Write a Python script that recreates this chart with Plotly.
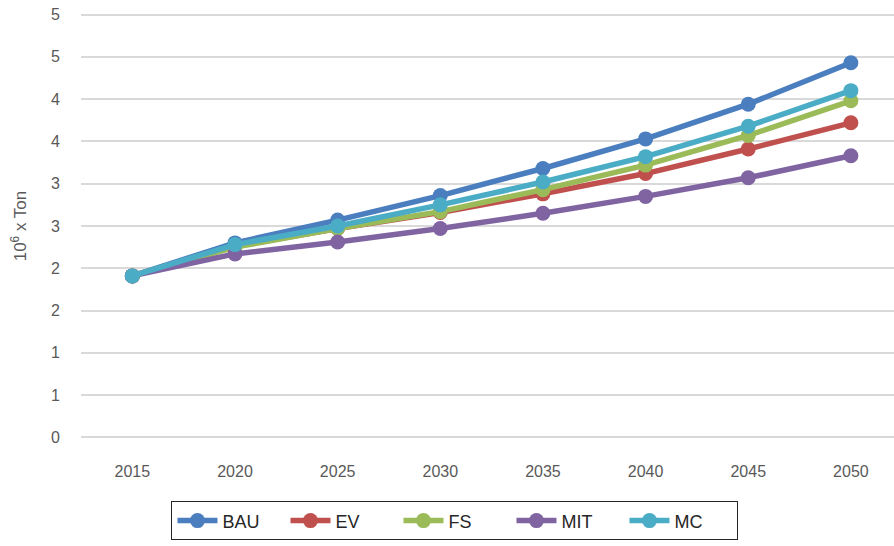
import plotly.graph_objects as go

years = ["2015", "2020", "2025", "2030", "2035", "2040", "2045", "2050"]
bau = [1.91, 2.30, 2.57, 2.86, 3.18, 3.53, 3.94, 4.43]
ev = [1.91, 2.26, 2.47, 2.66, 2.88, 3.12, 3.41, 3.72]
fs = [1.91, 2.25, 2.47, 2.67, 2.93, 3.22, 3.57, 3.98]
mit = [1.91, 2.17, 2.31, 2.47, 2.65, 2.85, 3.07, 3.33]
mc = [1.91, 2.28, 2.50, 2.75, 3.02, 3.32, 3.68, 4.10]

ytick_vals = [0, 0.5, 1, 1.5, 2, 2.5, 3, 3.5, 4, 4.5, 5]
ytick_text = ["0", "1", "1", "2", "2", "3", "3", "4", "4", "5", "5"]

series = [
    ("BAU", bau, "#4A7EBF"),
    ("EV", ev, "#C0504D"),
    ("FS", fs, "#9BBB59"),
    ("MIT", mit, "#8064A2"),
    ("MC", mc, "#4BACC6"),
]

font_family = "Liberation Sans, Arial, sans-serif"
text_color = "#595959"

fig = go.Figure()
for name, vals, color in series:
    fig.add_trace(go.Scatter(
        x=years, y=vals, name=name, mode="lines+markers",
        line=dict(color=color, width=5.5),
        marker=dict(color=color, size=15),
    ))

fig.update_layout(
    width=894, height=546,
    margin=dict(l=81, r=0, t=11.5, b=105.5),
    paper_bgcolor="white", plot_bgcolor="white",
    font=dict(family=font_family, color=text_color, size=16),
    showlegend=True,
    legend=dict(
        orientation="h", x=0.46, xanchor="center", y=-0.1434, yanchor="top",
        bordercolor="#262626", borderwidth=1,
        font=dict(size=18, color="#262626"),
        entrywidth=58, entrywidthmode="pixels",
        itemwidth=40,
    ),
    xaxis=dict(
        type="category", range=[-0.5, 7.42], automargin=False,
        showgrid=False, showline=False, zeroline=False,
        ticks="", ticklabelstandoff=20,
        tickfont=dict(size=16, color=text_color),
    ),
    yaxis=dict(
        range=[-0.03, 5.03], tickvals=ytick_vals, ticktext=ytick_text, automargin=False,
        showgrid=True, gridcolor="#d9d9d9", gridwidth=1.5,
        zeroline=False, showline=False, ticks="",
        ticklabelstandoff=20,
        tickfont=dict(size=16, color=text_color),
        title=dict(text="10<sup>6</sup> x Ton", font=dict(size=17, color=text_color), standoff=20),
    ),
)

fig.write_html("out.html", config={"displayModeBar": False},
               post_script="document.body.style.margin='0px';")
